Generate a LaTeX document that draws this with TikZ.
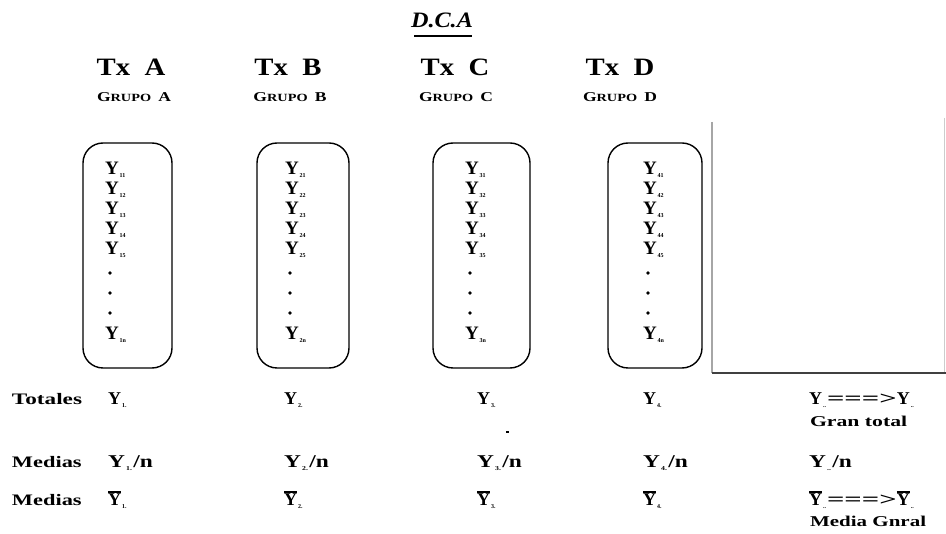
\documentclass[tikz,border=0pt]{standalone}
\usepackage{fontspec}
\setmainfont{Liberation Serif}
\newcommand{\Sb}[1]{\kern1pt\raisebox{-2.5pt}{\fontsize{6}{6}\selectfont\bfseries #1}\kern1pt}
\newcommand{\Yv}{\textbf{Y}}
\newcommand{\Yb}{\leavevmode\vbox{\hrule height 1.2pt\kern1.6pt\hbox{\textbf{Y}}}}
\newcommand{\Wd}[2]{\scalebox{#1}[1]{#2}}
\begin{document}
\begin{tikzpicture}[x=1pt,y=-1pt,
  every node/.style={inner sep=0pt,outer sep=0pt},
  grp/.style={draw=black,line width=1.4pt,rounded corners=20pt,fill=none},
  ent/.style={anchor=base west,font=\fontsize{19}{19}\selectfont\bfseries},
  dotn/.style={circle,fill=black,minimum size=3.6pt},
  tx/.style={font=\fontsize{25}{25}\selectfont\bfseries},
  gr/.style={font=\fontsize{11}{11}\selectfont\bfseries},
  lab/.style={anchor=base west,font=\fontsize{16}{16}\selectfont\bfseries},
  val/.style={anchor=base west,font=\fontsize{18}{18}\selectfont\bfseries},
  note/.style={anchor=base west,font=\fontsize{15}{15}\selectfont\bfseries}]
\useasboundingbox[fill=white] (0,0) rectangle (946,534);
% title
\node[font=\fontsize{22}{22}\selectfont\bfseries\itshape,anchor=base] (title) at (442,28) {\Wd{1.1}{D.C.A}};
\coordinate (ul1) at (414,36); \coordinate (ul2) at (472,36);
\draw[line width=1.2pt] (ul1) -- (ul2);
% headers
\foreach \n/\x/\gx in {A/131/134,B/288/290,C/455/456,D/620/620}{
  \node[tx,anchor=base] (tx\n) at (\x,76) {\Wd{1.15}{Tx\ \ \n}};
  \node[gr,anchor=base] (gr\n) at (\gx,102) {\Wd{1.3}{{\fontsize{13.5}{13.5}\selectfont G}RUPO\ \ {\fontsize{13.5}{13.5}\selectfont \n}}};
}
% boxes
\node[grp,minimum width=89pt,minimum height=225pt] (boxA) at (127.5,255.5) {};
\node[grp,minimum width=92pt,minimum height=225pt] (boxB) at (303,255.5) {};
\node[grp,minimum width=97pt,minimum height=225pt] (boxC) at (481.5,255.5) {};
\node[grp,minimum width=94pt,minimum height=225pt] (boxD) at (655,255.5) {};
% entries
\foreach \k/\x in {1/105,2/285,3/465,4/643}{
  \node[ent] (y\k1) at (\x,175) {\Yv\Sb{\k1}};
  \node[ent] (y\k2) at (\x,195) {\Yv\Sb{\k2}};
  \node[ent] (y\k3) at (\x,215) {\Yv\Sb{\k3}};
  \node[ent] (y\k4) at (\x,235) {\Yv\Sb{\k4}};
  \node[ent] (y\k5) at (\x,255) {\Yv\Sb{\k5}};
  \node[dotn] (d\k1) at ({\x+5},273) {};
  \node[dotn] (d\k2) at ({\x+5},293) {};
  \node[dotn] (d\k3) at ({\x+5},313) {};
  \node[ent] (y\k n) at (\x,340) {\Yv\Sb{\k n}};
}
% right frame
\coordinate (f1) at (712,122); \coordinate (f2) at (712,373); \coordinate (f3) at (946,373);
\coordinate (f4) at (944,118); \coordinate (f5) at (944,373);
\draw[gray!40,line width=0.6pt] (f4) -- (f5);
\draw[gray!70,line width=1.6pt] (f1) -- (f2);
\draw[black!75,line width=1.3pt] (f2) -- (f3);
% rows
\node[lab] (tot) at (12,405) {\Wd{1.45}{Totales}};
\node[lab] (med1) at (12,468) {\Wd{1.4}{Medias}};
\node[lab] (med2) at (12,506) {\Wd{1.4}{Medias}};
\foreach \k/\x in {1/108,2/284,3/477,4/643}{
  \node[val] (t\k) at (\x,405) {\Yv\Sb{\k.}};
  \node[val] (m\k) at (\x,468) {\Wd{1.3}{\Yv\Sb{\k.}/n}};
  \node[val] (b\k) at (\x,506) {\Yb\Sb{\k.}};
}
\node[val] (tg) at (809,405) {\Yv\Sb{..}\Wd{1.7}{===>}\Yv\Sb{..}};
\node[note] (tgl) at (810,427) {\Wd{1.45}{Gran total}};
\node[val] (mg) at (809,468) {\Wd{1.3}{\Yv\Sb{..}/n}};
\node[val] (bg) at (809,506) {\Yb\Sb{..}\Wd{1.7}{===>}\Yb\Sb{..}};
\node[note] (bgl) at (810,527) {\Wd{1.4}{Media Gnral}};
\node[fill=black,minimum width=3pt,minimum height=1.5pt] (stray) at (507,432) {};
\end{tikzpicture}
\end{document}
